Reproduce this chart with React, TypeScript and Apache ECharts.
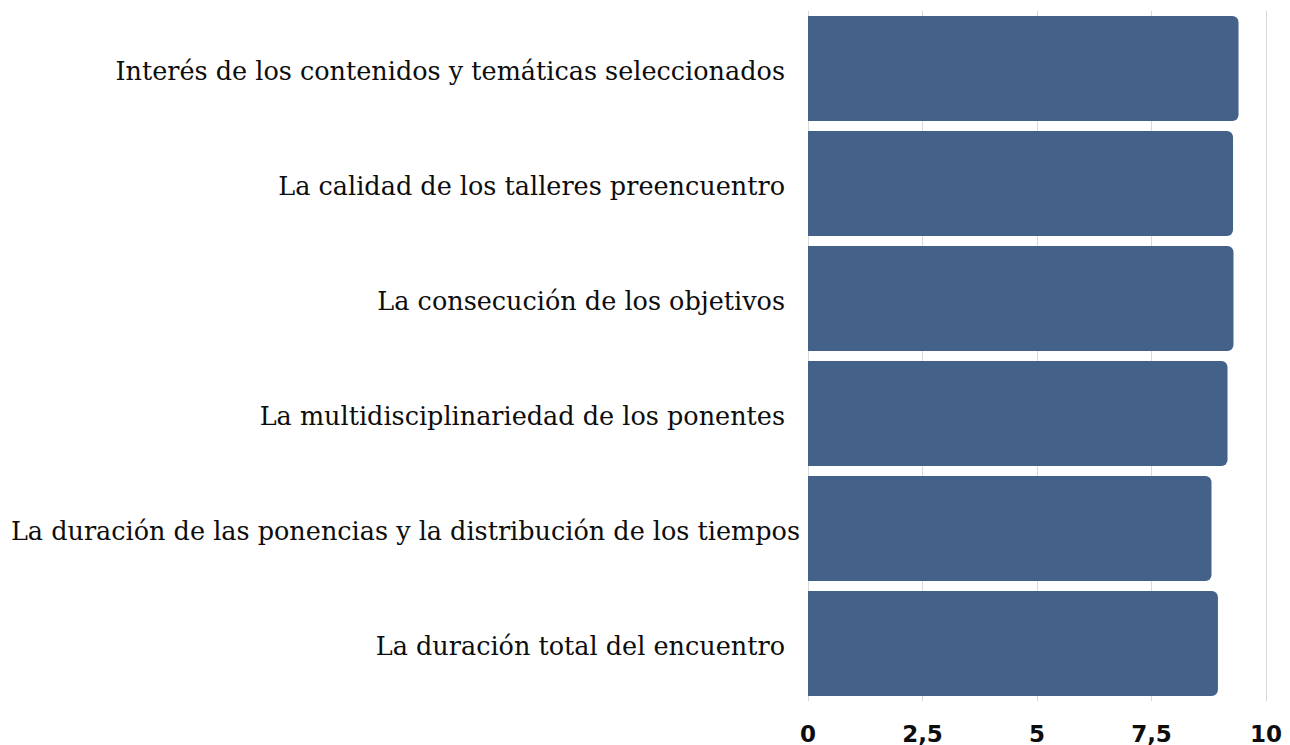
import React, { useEffect, useRef } from "react";
import * as echarts from "echarts";

const categories = [
  "Interés de los contenidos y temáticas seleccionados",
  "La calidad de los talleres preencuentro",
  "La consecución de los objetivos",
  "La multidisciplinariedad de los ponentes",
  "La duración de las ponencias y la distribución de los tiempos",
  "La duración total del encuentro",
];
const values = [9.4, 9.28, 9.29, 9.16, 8.81, 8.95];
const tickLabels: Record<string, string> = { "0": "0", "2.5": "2,5", "5": "5", "7.5": "7,5", "10": "10" };

export default function App() {
  const ref = useRef<HTMLDivElement>(null);
  useEffect(() => {
    const chart = echarts.init(ref.current!, null, { renderer: "svg" });
    const longest = categories[4];
    chart.setOption({
      animation: false,
      backgroundColor: "#ffffff",
      grid: { left: 808, right: 24, top: 11, bottom: 43, containLabel: false },
      xAxis: {
        type: "value",
        min: 0,
        max: 10,
        interval: 2.5,
        axisLine: { show: false },
        axisTick: { show: false },
        splitLine: { show: true, lineStyle: { color: "#d9d9d9", width: 1 } },
        axisLabel: {
          margin: 21,
          color: "#0d0d0d",
          fontSize: 23,
          fontWeight: "bold",
          fontFamily: "DejaVu Sans",
          formatter: (v: number) => tickLabels[String(v)] ?? String(v),
        },
      },
      yAxis: {
        type: "category",
        inverse: true,
        data: categories,
        axisLine: { show: false },
        axisTick: { show: false },
        splitLine: { show: false },
        axisLabel: {
          margin: 8,
          formatter: (v: string) => (v === longest ? `{b|${v}}` : `{a|${v}}`),
          rich: {
            a: { color: "#0d0d0d", fontSize: 25.5, fontFamily: "DejaVu Serif", padding: [4, 15, 0, 0] },
            b: { color: "#0d0d0d", fontSize: 25.5, fontFamily: "DejaVu Serif", padding: [4, 0, 0, 0] },
          },
        },
      },
      series: [
        {
          type: "bar",
          data: values,
          barCategoryGap: "8.9%",
          itemStyle: { color: "#44618a", borderRadius: [0, 6, 6, 0] },
        },
      ],
    });
    return () => chart.dispose();
  }, []);
  return <div ref={ref} style={{ position: "fixed", left: 0, top: 0, width: 1290, height: 745 }} />;
}
